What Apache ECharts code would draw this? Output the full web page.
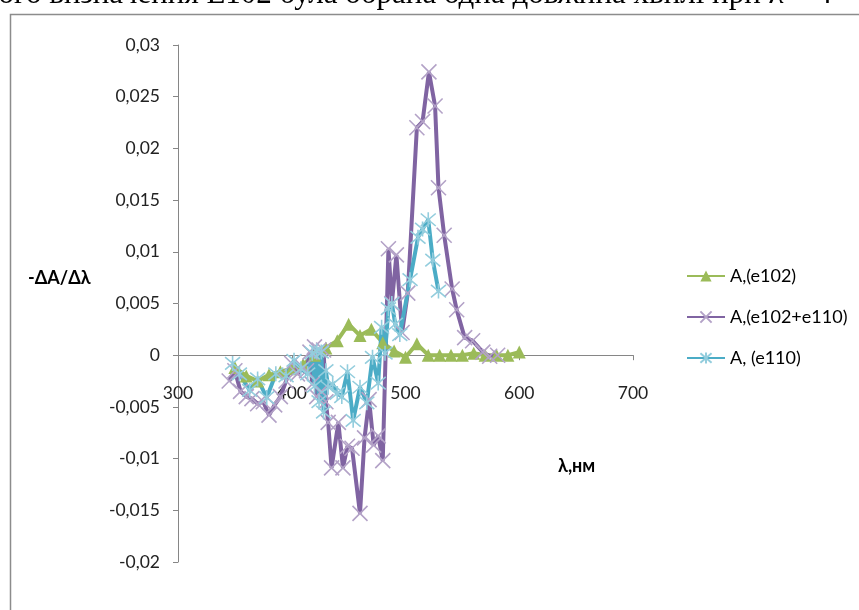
<!DOCTYPE html>
<html>
<head>
<meta charset="utf-8">
<script src="https://cdn.jsdelivr.net/npm/echarts@6/dist/echarts.min.js"></script>
<style>
html,body{margin:0;padding:0;background:#fff;}
#chart{width:859px;height:610px;}
</style>
</head>
<body>
<div id="chart"></div>
<script>
// ---- data ----
const seriesNames = ['A,(e102)', 'A,(e102+e110)', 'A, (e110)'];

const e102X = [350,360,370,380,390,400,410,420,430,440,450,460,470,480,490,500,510,520,530,540,550,560,570,580,590,600];
const e102Y = [-0.0012,-0.0020,-0.0025,-0.0019,-0.0016,-0.0013,-0.0009,0.0000,0.0007,0.0014,0.0030,0.0019,0.0025,0.0012,0.0004,-0.0002,0.0011,0.0000,0.0000,0.0000,0.0000,0.0002,0.0000,0.0000,0.0000,0.0003];

const mixX = [345,350,355,360,365,370,375,380,385,390,395,400,405,410,413,416,418,420,422,424,426,428,430,432,435,441,445,449,453,460,464,468,472,476,480,485,488,492,497,502,510,515,520.6,526,529,534,541,545,552,559,568,574,581];
const mixY = [-0.0025,-0.0015,-0.0035,-0.0040,-0.0042,-0.0047,-0.0045,-0.0058,-0.0048,-0.0040,-0.0025,-0.0008,-0.0018,-0.0012,-0.0015,0.0003,-0.0028,0.0008,-0.0040,0.0005,-0.0035,0.0005,-0.0045,-0.0065,-0.0109,-0.0065,-0.0109,-0.0088,-0.0090,-0.0153,-0.0080,-0.0043,-0.0087,-0.0078,-0.0102,0.0103,0.0050,0.0097,0.0022,0.0060,0.0220,0.0226,0.0274,0.0241,0.0162,0.0116,0.0064,0.0044,0.0017,0.0014,0.0003,-0.0001,0.0000];

const e110X = [348,354,363,370,378,386,395,402,408,414,418,420,422,424,426,428,430,432,436,440,444,449,454,460,466,471,476,479,482,485,488,491,495,504,511,515,520,524,529];
const e110Y = [-0.0008,-0.0018,-0.0034,-0.0023,-0.0041,-0.0018,-0.0020,-0.0005,-0.0013,-0.0018,0.0002,-0.0030,0.0004,-0.0045,0.0003,-0.0055,-0.0015,-0.0031,-0.0028,-0.0037,-0.0040,-0.0016,-0.0063,-0.0031,-0.0046,-0.0002,-0.0027,0.0027,0.0002,0.0045,0.0050,0.0030,0.0020,0.0073,0.0114,0.0122,0.0131,0.0092,0.0062];

const xTicks = {min:300, max:700, step:100};
const yTicks = {min:-0.02, max:0.03, step:0.005};

// ---- chart ----
function zip(xs, ys){ return xs.map((x,i)=>[x, ys[i]]); }
const fnt = 'Lato, "Open Sans", "DejaVu Sans", sans-serif';
const chart = echarts.init(document.getElementById('chart'), null, {renderer:'canvas'});

const X_PATH = 'path://M0,0L10,10M10,0L0,10';
const AST_PATH = 'path://M0,0L10,10M10,0L0,10M5,-1L5,11';

const gridTop = 45, gridBottom = 48, H = 610;
const plotH = H - gridTop - gridBottom;
// distance from the bottom of the plot to the y=0 line, so the x axis sits on zero
const zeroOffset = -plotH * (0 - yTicks.min) / (yTicks.max - yTicks.min);

chart.setOption({
  backgroundColor:'#fff',
  animation:false,
  grid:{left:178, right:226, top:gridTop, bottom:gridBottom, containLabel:false},
  legend:{
    orient:'vertical', left:681, top:262, itemGap:23, itemWidth:38, itemHeight:14,
    textStyle:{fontFamily:fnt, fontSize:18, color:'#000'},
    data:seriesNames
  },
  xAxis:{
    type:'value', min:xTicks.min, max:xTicks.max, interval:xTicks.step,
    position:'bottom', offset:zeroOffset,
    axisLine:{onZero:false, lineStyle:{color:'#868686', width:1}},
    axisTick:{show:true, length:5, lineStyle:{color:'#868686'}},
    axisLabel:{margin:29, fontFamily:fnt, fontSize:17.5, color:'#222'},
    splitLine:{show:false}
  },
  yAxis:{
    type:'value', min:yTicks.min, max:yTicks.max, interval:yTicks.step,
    axisLine:{show:true, onZero:false, lineStyle:{color:'#868686', width:1}},
    axisTick:{show:true, length:5, lineStyle:{color:'#868686'}},
    axisLabel:{margin:18, fontFamily:fnt, fontSize:17.5, color:'#222',
      formatter:function(v){ var r=Math.round(v*1000)/1000; return String(r).replace('.',','); }},
    splitLine:{show:false}
  },
  graphic:[
    {type:'rect', left:8, top:12, shape:{width:900, height:700}, style:{fill:'none', stroke:'#8c8c8c', lineWidth:1.5}, silent:true, z:-1},
    {type:'text', left:-18, top:-21, style:{text:'ного визначення Е102 була обрана одна довжина хвилі при λ = 4', font:'31px "Liberation Serif", "DejaVu Serif", serif', fill:'#000'}},
    {type:'text', left:28, top:269, style:{text:'-ΔA/Δλ', font:'bold 18px '+fnt, fill:'#000'}},
    {type:'text', left:558, top:457, style:{text:'λ,нм', font:'bold 18px '+fnt, fill:'#000'}}
  ],
  series:[
    {name:seriesNames[0], type:'line', data:zip(e102X,e102Y),
     lineStyle:{color:'#9BBB59', width:4}, itemStyle:{color:'#9BBB59'},
     symbol:'triangle', symbolSize:13, showAllSymbol:true},
    {name:seriesNames[1], type:'line', data:zip(mixX,mixY),
     lineStyle:{color:'#8064A2', width:4},
     itemStyle:{color:'#8064A2', borderColor:'#B3A2C7', borderWidth:1.6},
     symbol:X_PATH, symbolSize:15, showAllSymbol:true},
    {name:seriesNames[2], type:'line', data:zip(e110X,e110Y),
     lineStyle:{color:'#4BACC6', width:4},
     itemStyle:{color:'#4BACC6', borderColor:'#93CDDD', borderWidth:1.6},
     symbol:AST_PATH, symbolSize:15, showAllSymbol:true}
  ]
});
</script>
</body>
</html>
